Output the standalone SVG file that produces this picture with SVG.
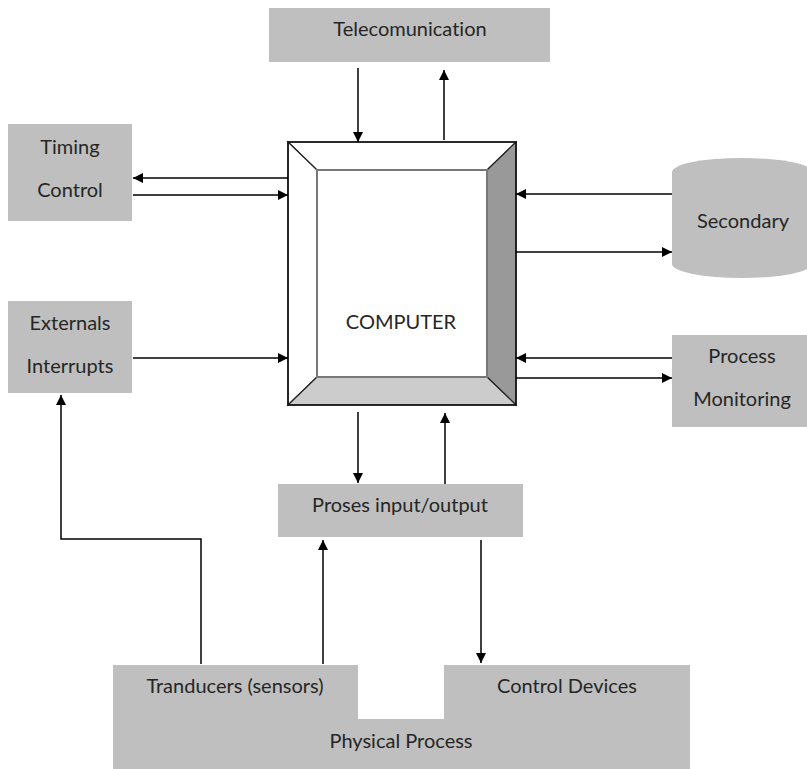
<svg xmlns="http://www.w3.org/2000/svg" width="807" height="769" viewBox="0 0 807 769">
  <defs>
    <marker id="arrow" viewBox="0 0 10 10" refX="10" refY="5" markerWidth="10" markerHeight="10" markerUnits="userSpaceOnUse" orient="auto">
      <path d="M0,0 L10,5 L0,10 Z" fill="#000"/>
    </marker>
    <style>
      .box { fill: #bfbfbf; }
      .label { font-family: Lato, "Liberation Sans", sans-serif; font-size: 20px; fill: #262626; text-anchor: middle; font-variant-ligatures: none; }
      .wire { stroke: #000; stroke-width: 1.5; fill: none; }
      .arr { stroke: #000; stroke-width: 1.5; fill: none; marker-end: url(#arrow); }
      .bevel { stroke: #222; stroke-width: 1.2; stroke-linejoin: miter; }
    </style>
  </defs>
  <rect width="807" height="769" fill="#fff"/>

  <g id="telecomunication">
    <rect class="box" x="269" y="8" width="281" height="54"/>
    <text class="label" x="410" y="36">Telecomunication</text>
  </g>

  <g id="timing-control">
    <rect class="box" x="8" y="124" width="124" height="97"/>
    <text class="label" x="70" y="154">Timing</text>
    <text class="label" x="70" y="197">Control</text>
  </g>

  <g id="externals-interrupts">
    <rect class="box" x="8" y="301" width="124" height="92"/>
    <text class="label" x="70" y="330">Externals</text>
    <text class="label" x="70" y="373">Interrupts</text>
  </g>

  <g id="computer">
    <polygon class="bevel" points="288,142 516,142 487,170 317,170" fill="#fff"/>
    <polygon class="bevel" points="288,142 317,170 317,377 288,405" fill="#fff"/>
    <polygon class="bevel" points="516,142 516,405 487,377 487,170" fill="#999"/>
    <polygon class="bevel" points="288,405 516,405 487,377 317,377" fill="#ccc"/>
    <rect x="317" y="170" width="170" height="207" fill="#fff" stroke="#777" stroke-width="2"/>
    <rect x="288" y="142" width="228" height="263" fill="none" stroke="#111" stroke-width="1.6"/>
    <text class="label" x="401" y="329">COMPUTER</text>
  </g>

  <g id="secondary">
    <path class="box" d="M672,172 A70,14 0 0 1 812,172 V264 A70,14 0 0 1 672,264 Z"/>
    <text class="label" x="743" y="228">Secondary</text>
  </g>

  <g id="process-monitoring">
    <rect class="box" x="672" y="335" width="135" height="92"/>
    <text class="label" x="742" y="363">Process</text>
    <text class="label" x="742" y="406">Monitoring</text>
  </g>

  <g id="proses-io">
    <rect class="box" x="278" y="484" width="245" height="53"/>
    <text class="label" x="400" y="512">Proses input/output</text>
  </g>

  <g id="physical-process">
    <path class="box" d="M113,665 H358 V719 H444 V665 H690 V769 H113 Z"/>
    <text class="label" x="235" y="693">Tranducers (sensors)</text>
    <text class="label" x="567" y="693">Control Devices</text>
    <text class="label" x="401" y="748">Physical Process</text>
  </g>

  <g id="connectors">
    <line class="arr" x1="358" y1="68" x2="358" y2="142"/>
    <line class="arr" x1="444" y1="140" x2="444" y2="70"/>
    <line class="arr" x1="288" y1="178" x2="133" y2="178"/>
    <line class="arr" x1="133" y1="195" x2="288" y2="195"/>
    <line class="arr" x1="133" y1="358" x2="288" y2="358"/>
    <line class="arr" x1="672" y1="194" x2="516" y2="194"/>
    <line class="arr" x1="516" y1="252" x2="672" y2="252"/>
    <line class="arr" x1="672" y1="358" x2="516" y2="358"/>
    <line class="arr" x1="516" y1="378" x2="672" y2="378"/>
    <line class="arr" x1="358" y1="412" x2="358" y2="483"/>
    <line class="arr" x1="445" y1="484" x2="445" y2="413"/>
    <polyline class="arr" points="201,664 201,539 61,539 61,395"/>
    <line class="arr" x1="323" y1="664" x2="323" y2="540"/>
    <line class="arr" x1="481" y1="540" x2="481" y2="663"/>
  </g>
</svg>
